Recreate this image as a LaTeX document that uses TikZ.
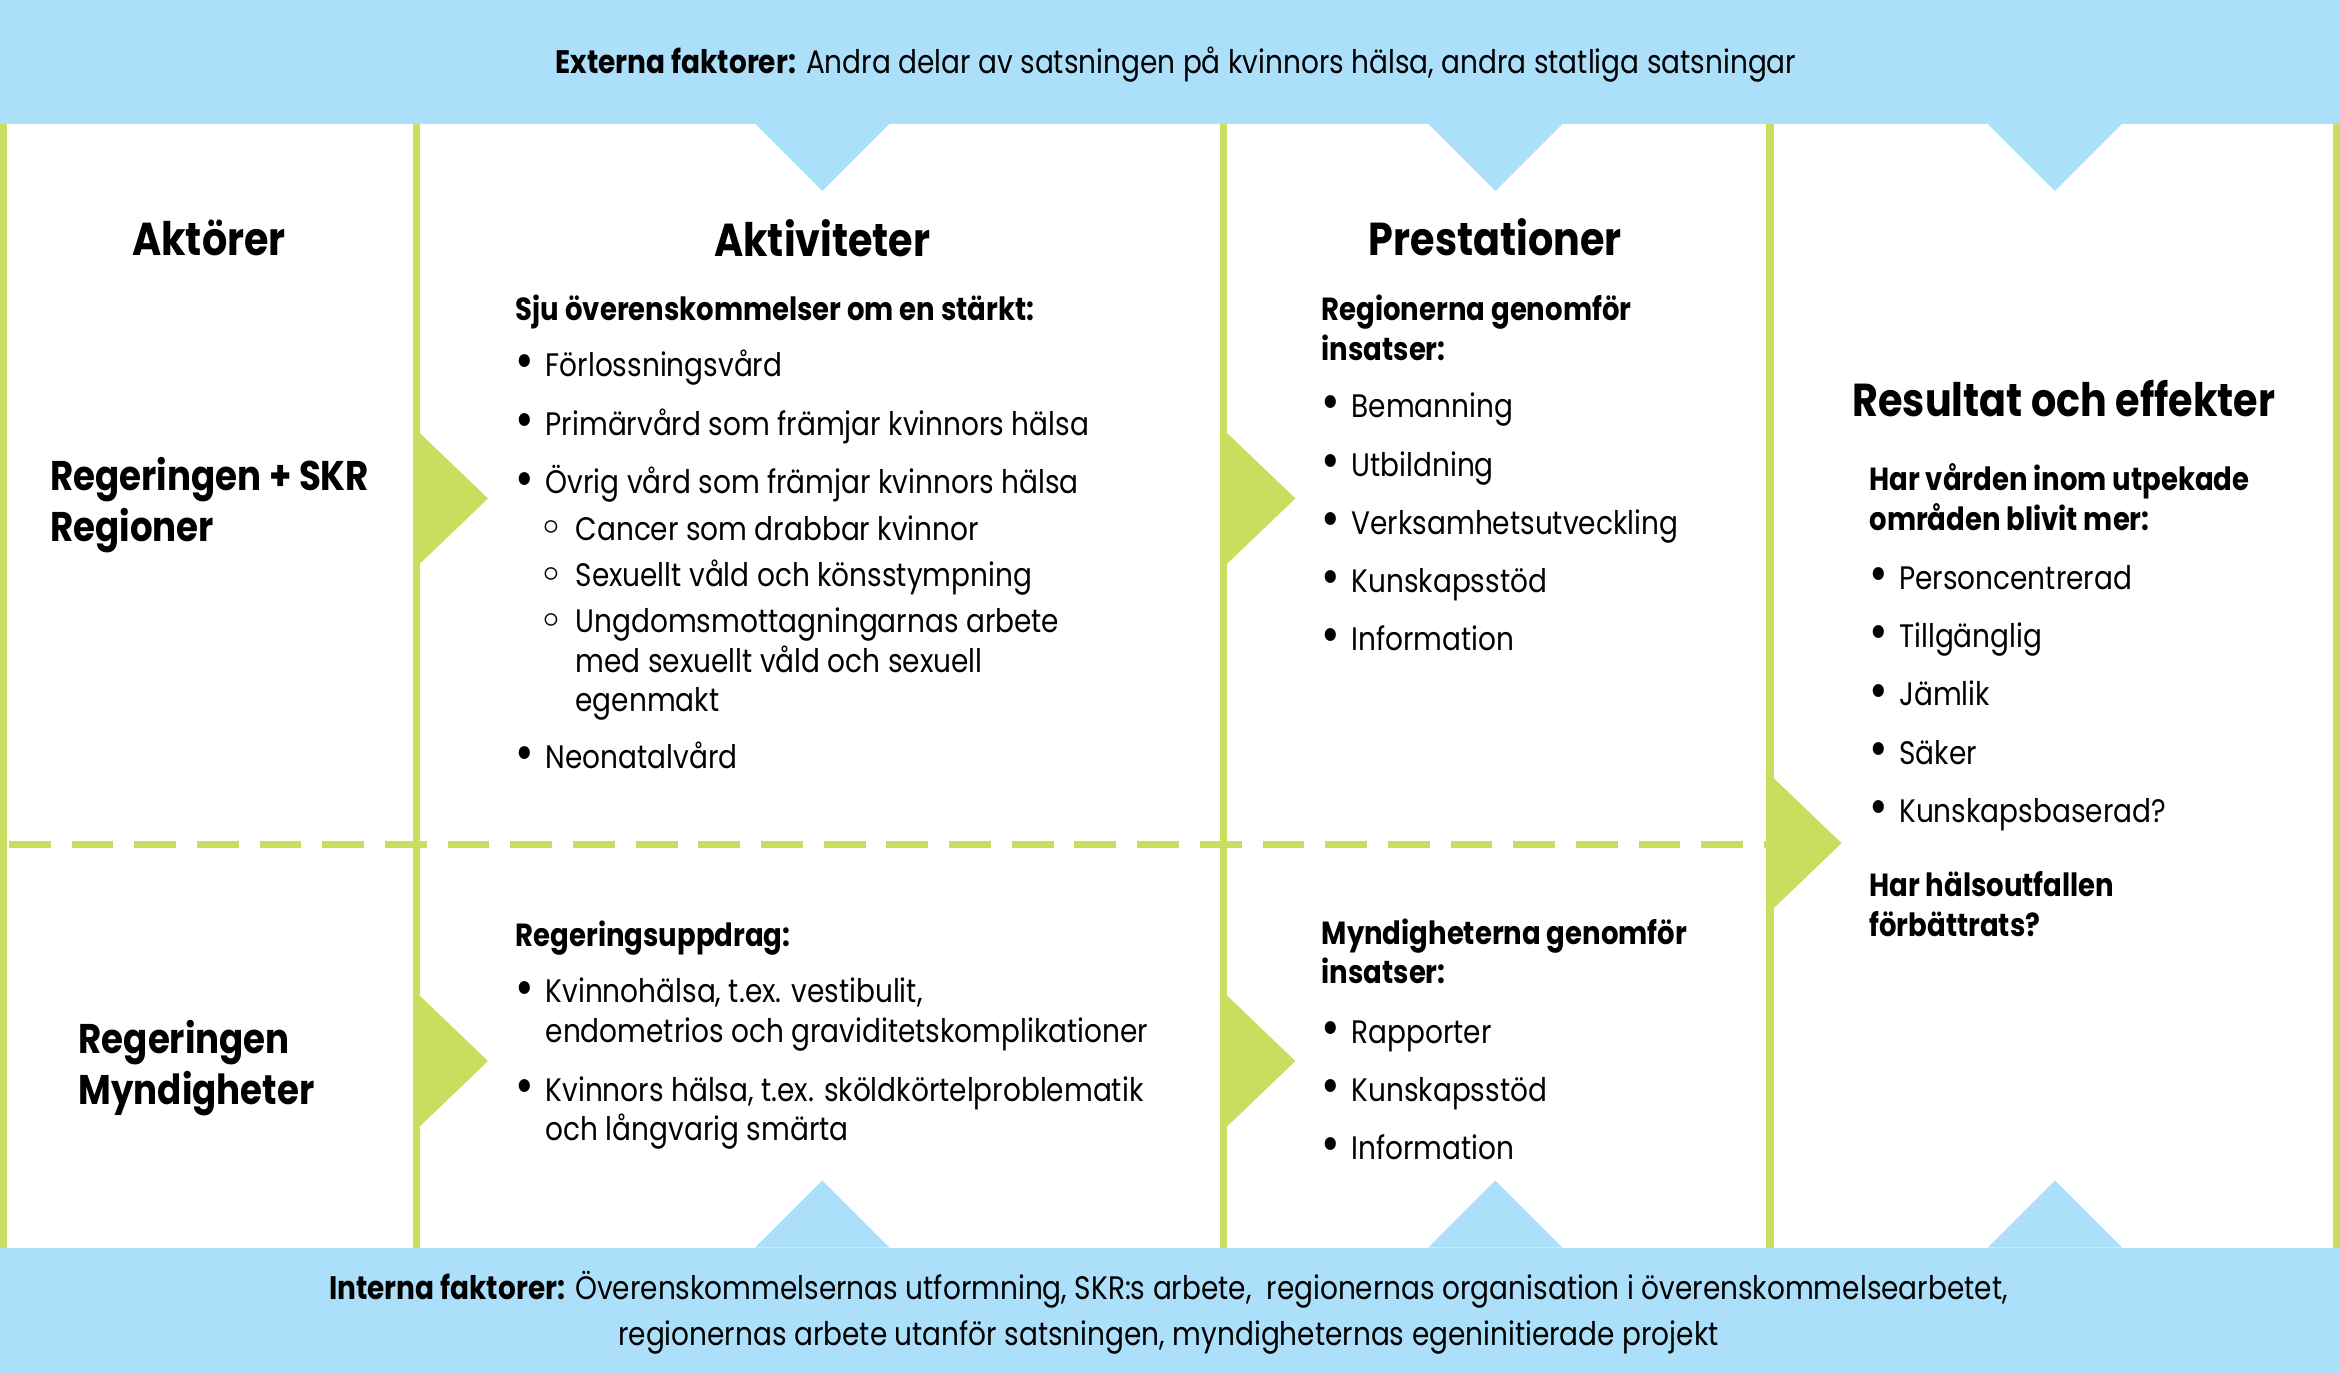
\documentclass[tikz,border=0pt]{standalone}
\usepackage{fontspec}
\setmainfont{Poppins}[FakeStretch=0.86]
\definecolor{skyband}{RGB}{172,224,250}
\definecolor{lime}{RGB}{201,221,94}
\newcommand\bodyfont{\fontsize{6.2}{7.5}\selectfont}
\newcommand\bul{\makebox[2mm][l]{\raisebox{-.12ex}{\fontsize{10}{10}\selectfont\textbullet}}}
\newcommand\sbul{\makebox[2.3mm][l]{\raisebox{.35ex}{$\scriptscriptstyle\circ$}}}
\newcommand\rows[1]{\begin{tabular}[t]{@{}l@{}}#1\end{tabular}}

\begin{document}
\begin{tikzpicture}[x=.1mm, y=-.1mm,
  every node/.style={inner sep=0pt, font=\bodyfont},
  head/.style={anchor=base, font=\fontsize{8.8}{11}\selectfont\bfseries},
  actor/.style={anchor=base west, font=\fontsize{7.9}{9.7}\selectfont\bfseries},
  txt/.style={anchor=base west},
  bold/.style={anchor=base west, font=\fontsize{6.1}{7.5}\selectfont\bfseries},
  divider/.style={lime, line width=.5mm}]
  \useasboundingbox (0,0) rectangle (1568,920);
  % bands with their pointers
  \fill[skyband] (0,0) rectangle (1568,83);
  \fill[skyband] (0,836) rectangle (1568,920);
  \foreach \c in {551,1002,1377}{
    \fill[skyband] (\c-45,83) -- (\c+45,83) -- (\c,128) -- cycle;
    \fill[skyband] (\c-45,836) -- (\c+45,836) -- (\c,791) -- cycle;}
  % columns
  \foreach \x in {2.5,279,820,1186,1565.5} \draw[divider] (\x,83) -- (\x,836);
  \draw[divider, dash pattern=on 2.8mm off 1.4mm] (6,566) -- (1186,566);
  \foreach \x/\y in {279/334,279/711,820/334,820/711,1186/565}
    \fill[lime] (\x,\y-46) -- (\x+48,\y) -- (\x,\y+46) -- cycle;

  \node[anchor=base] (ext) at (788,49) {\textbf{Externa faktorer:} Andra delar av satsningen på kvinnors hälsa, andra statliga satsningar};
  \node[anchor=base, font=\fontsize{6.2}{8.8}\selectfont] (int) at (783,871) {\begin{tabular}[t]{@{}c@{}}\textbf{Interna faktorer:} Överenskommelsernas utformning, SKR:s arbete, \ regionernas organisation i överenskommelsearbetet,\\ regionernas arbete utanför satsningen, myndigheternas egeninitierade projekt\end{tabular}};

  \node[head] (hAkt) at (140,171) {Aktörer};
  \node[head] (hAkv) at (551,172) {Aktiviteter};
  \node[head] (hPre) at (1002,171) {Prestationer};
  \node[head] (hRes) at (1383,279) {Resultat och effekter};

  \node[actor] (reg1) at (33,329) {\rows{Regeringen + SKR\\Regioner}};
  \node[actor] (reg2) at (52,706) {\rows{Regeringen\\Myndigheter}};

  % aktiviteter
  \node[bold] (sju) at (345,215) {Sju överenskommelser om en stärkt:};
  \node[txt] (a1) at (345,252) {\bul Förlossningsvård};
  \node[txt] (a2) at (345,292) {\bul Primärvård som främjar kvinnors hälsa};
  \node[txt] (a3) at (345,331) {\bul Övrig vård som främjar kvinnors hälsa};
  \node[txt] (s1) at (362,362) {\sbul Cancer som drabbar kvinnor};
  \node[txt] (s2) at (362,393) {\sbul Sexuellt våld och könsstympning};
  \node[txt] (s3) at (362,424) {\sbul\rows{Ungdomsmottagningarnas arbete\\med sexuellt våld och sexuell\\egenmakt}};
  \node[txt] (a4) at (345,515) {\bul Neonatalvård};
  \node[bold] (upp) at (345,634) {Regeringsuppdrag:};
  \node[txt] (u1) at (345,672) {\bul\rows{Kvinnohälsa, t.ex. vestibulit,\\endometrios och graviditetskomplikationer}};
  \node[txt] (u2) at (345,738) {\bul\rows{Kvinnors hälsa, t.ex. sköldkörtelproblematik\\och långvarig smärta}};

  % prestationer
  \node[bold] (rgn) at (885,215) {\rows{Regionerna genomför\\insatser:}};
  \foreach \t [count=\i] in {Bemanning,Utbildning,Verksamhetsutveckling,Kunskapsstöd,Information}
    \node[txt] (p\i) at (885,241+39*\i) {\bul \t};
  \node[bold] (myn) at (885,633) {\rows{Myndigheterna genomför\\insatser:}};
  \foreach \t [count=\i] in {Rapporter,Kunskapsstöd,Information}
    \node[txt] (m\i) at (885,660+39*\i) {\bul \t};

  % resultat
  \node[bold] (vrd) at (1252,329) {\rows{Har vården inom utpekade\\områden blivit mer:}};
  \foreach \t [count=\i] in {Personcentrerad,Tillgänglig,Jämlik,Säker,Kunskapsbaserad?}
    \node[txt] (r\i) at (1252,356+39*\i) {\bul \t};
  \node[bold] (hls) at (1252,601) {\rows{Har hälsoutfallen\\förbättrats?}};
\end{tikzpicture}
\end{document}
